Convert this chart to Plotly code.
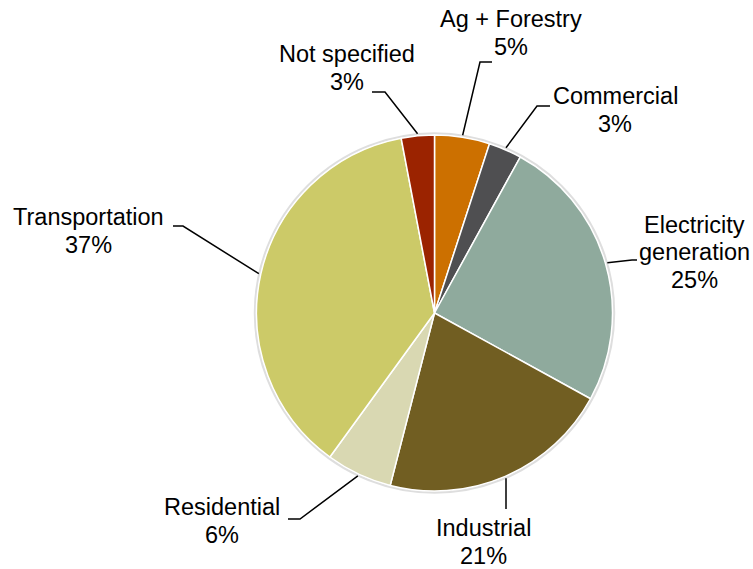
import math
import plotly.graph_objects as go

# Emissions share by sector (percent), clockwise from 12 o'clock
categories = ["Ag + Forestry", "Commercial", "Electricity generation", "Industrial",
              "Residential", "Transportation", "Not specified"]
shares = [5, 3, 25, 21, 6, 37, 3]
colors = ["#CC7000", "#4F4F51", "#8FAA9D", "#715E22", "#D9D8B2", "#CCCA68", "#9B2300"]

# How each category name is broken across lines in its label
label_lines = {
    "Ag + Forestry": ["Ag + Forestry"],
    "Commercial": ["Commercial"],
    "Electricity generation": ["Electricity", "generation"],
    "Industrial": ["Industrial"],
    "Residential": ["Residential"],
    "Transportation": ["Transportation"],
    "Not specified": ["Not specified"],
}

W, H = 753, 569
CX, CY, R = 434.5, 313.0, 178.0  # pie centre and radius, px
LINE_GAP = 27.5                   # label line spacing, px
FONT = dict(family="Liberation Sans, Arial", size=23.5, color="black")

# Label centres and leader-line bend/end points (px, from top-left)
label_pos = {
    "Ag + Forestry": (511, 33),
    "Commercial": (615, 110),
    "Electricity generation": (694, 252),
    "Industrial": (483, 542),
    "Residential": (222, 521),
    "Transportation": (88, 231),
    "Not specified": (347, 68),
}
leader_path = {
    "Ag + Forestry": [(480, 62), (492, 62)],
    "Commercial": [(537, 106), (550, 106)],
    "Electricity generation": [(632, 260), (637, 260)],
    "Industrial": [(506, 509)],
    "Residential": [(300, 519), (288, 519)],
    "Transportation": [(183, 226), (173, 226)],
    "Not specified": [(385, 92), (372, 92)],
}


def px(x):
    return x / W


def py(y):
    return 1 - y / H


fig = go.Figure(go.Pie(
    labels=categories,
    values=shares,
    sort=False,
    direction="clockwise",
    rotation=0,
    marker=dict(colors=colors, line=dict(color="white", width=1.5)),
    textinfo="none",
    hoverinfo="label+percent",
    showlegend=False,
    domain=dict(x=[px(CX - R), px(CX + R)], y=[py(CY + R), py(CY - R)]),
))

shapes = [
    # faint outline around the pie
    dict(type="circle", xref="paper", yref="paper", layer="below",
         x0=px(CX - R - 1.5), x1=px(CX + R + 1.5),
         y0=py(CY + R + 1.5), y1=py(CY - R - 1.5),
         line=dict(color="rgba(0,0,0,0.13)", width=2.5),
         fillcolor="rgba(0,0,0,0)"),
]
annotations = []
total = sum(shares)
cum = 0.0
for cat, val in zip(categories, shares):
    mid = (cum + val / 2) / total * 2 * math.pi
    cum += val
    sx = CX + (R + 2) * math.sin(mid)
    sy = CY - (R + 2) * math.cos(mid)
    pts = [(sx, sy)] + leader_path[cat]
    path = "M " + " L ".join(f"{px(x):.5f},{py(y):.5f}" for x, y in pts)
    shapes.append(dict(type="path", xref="paper", yref="paper", path=path,
                       line=dict(color="black", width=1.5)))
    pct = round(val / total * 100)
    lines = label_lines[cat] + [f"{pct}%"]
    lx, ly = label_pos[cat]
    n = len(lines)
    for i, line in enumerate(lines):
        y = ly + (i - (n - 1) / 2) * LINE_GAP
        annotations.append(dict(
            x=px(lx), y=py(y), xref="paper", yref="paper",
            xanchor="center", yanchor="middle", align="center",
            text=line, showarrow=False, font=FONT,
        ))

fig.update_layout(
    width=W, height=H,
    margin=dict(l=0, r=0, t=0, b=0),
    paper_bgcolor="white", plot_bgcolor="white",
    shapes=shapes, annotations=annotations,
)

fig.write_html("out.html")
